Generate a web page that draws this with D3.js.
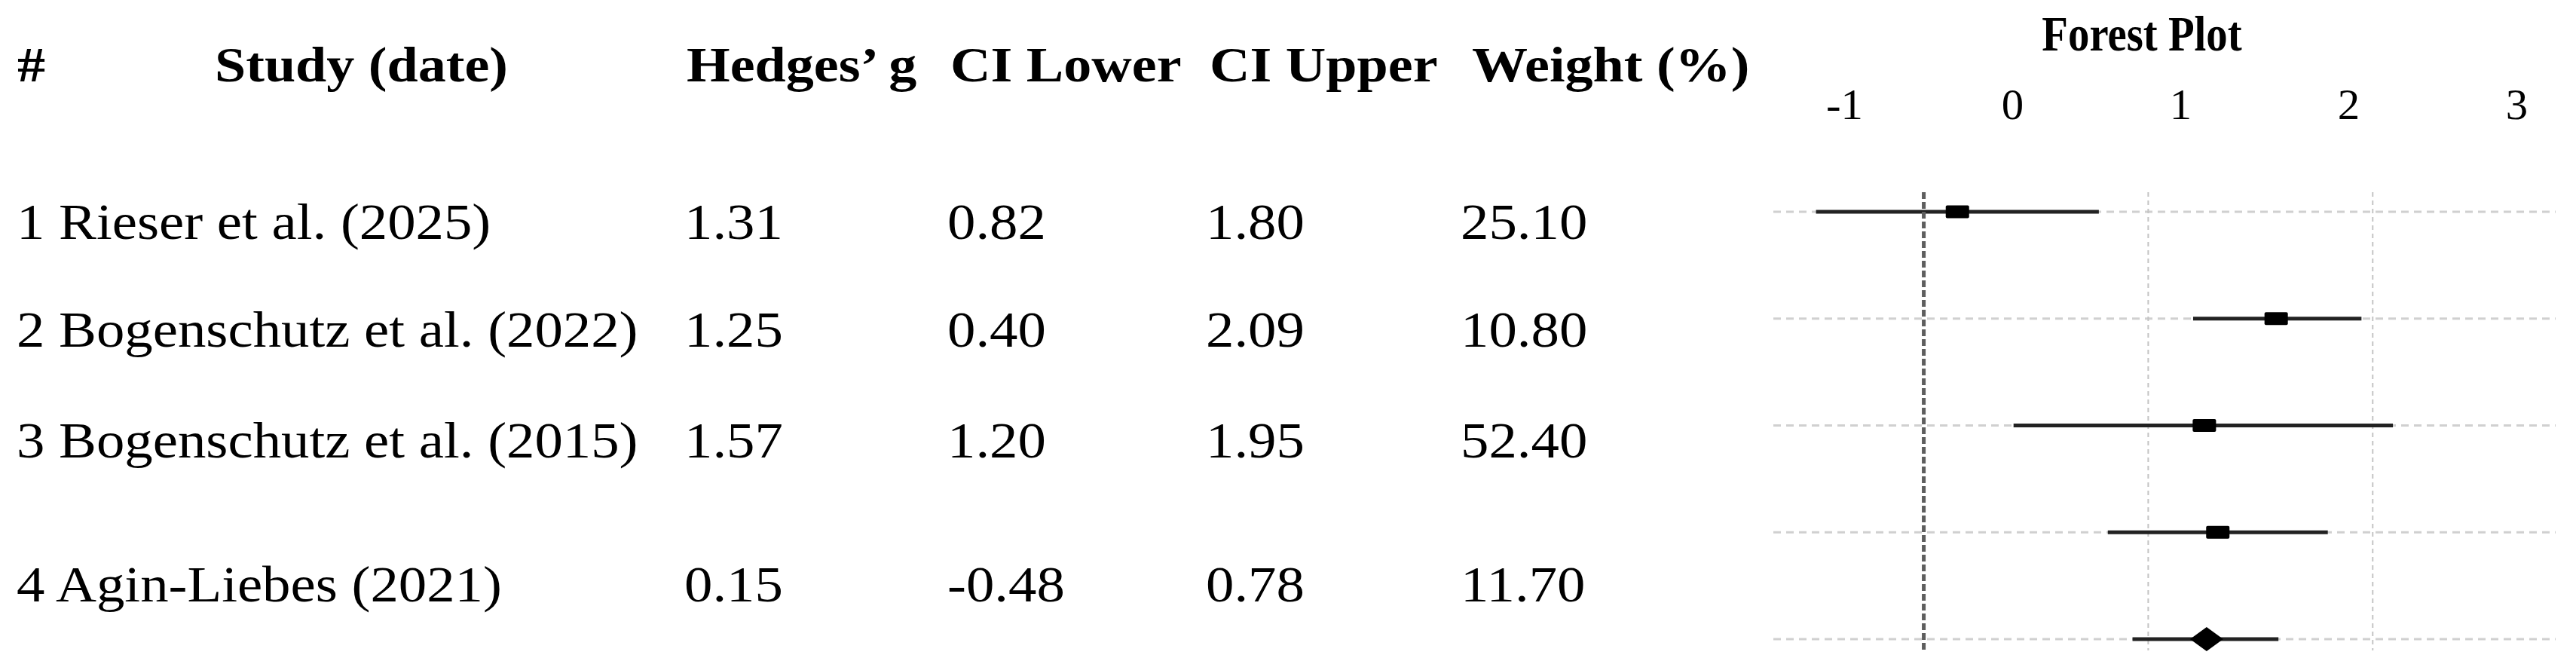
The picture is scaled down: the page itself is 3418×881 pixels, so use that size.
<!DOCTYPE html>
<html>
<head>
<meta charset="utf-8">
<script src="https://cdn.jsdelivr.net/npm/d3@7"></script>
<style>
  html, body { margin: 0; padding: 0; background: #fff; }
  svg { display: block; }
</style>
</head>
<body>
<div id="chart"></div>
<script>
// Datos de la tabla
const studyIds = [1, 2, 3, 4];
const studyNames = ["Rieser et al. (2025)", "Bogenschutz et al. (2022)", "Bogenschutz et al. (2015)", "Agin-Liebes (2021)"];
const hedgesG = [1.31, 1.25, 1.57, 0.15];
const ciLower = [0.82, 0.40, 1.20, -0.48];
const ciUpper = [1.80, 2.09, 1.95, 0.78];
const weights = [25.10, 10.80, 52.40, 11.70];

// Estimación combinada (rombo)
const pooledG = 1.26;
const pooledLower = 0.93;
const pooledUpper = 1.58;

const columnHeaders = ["#", "Study (date)", "Hedges’ g", "CI Lower", "CI Upper", "Weight (%)"];
const axisTicks = [-1, 0, 1, 2, 3];
const gridValues = [1, 2];

const W = 3418, H = 881;
const serif = "'Liberation Serif', 'Times New Roman', serif";

const svg = d3.select("#chart").append("svg")
    .attr("width", W)
    .attr("height", H);

svg.append("rect").attr("width", W).attr("height", H).attr("fill", "#fff");

// texto con escala horizontal (la imagen original está algo estirada)
function addText(g, x, y, str, opts) {
    return g.append("text")
        .attr("transform", `translate(${x},${y}) scale(${opts.sx || 1},1)`)
        .attr("text-anchor", opts.anchor || "start")
        .style("font-family", serif)
        .style("font-size", opts.size + "px")
        .style("font-weight", opts.bold ? "bold" : "normal")
        .attr("fill", "#000")
        .text(str);
}

// ---- Tabla ----
const table = svg.append("g");
const headerX = [23, 285, 911, 1261, 1605, 1953];
const headerY = 108;
columnHeaders.forEach((h, i) => addText(table, headerX[i], headerY, h, { size: 65, bold: true, sx: 1.14 }));

const rowBaselines = [317, 460, 607, 798];
const colX = { label: 22, g: 908, lo: 1257, hi: 1600, w: 1938 };
const bodyStyle = { size: 68, sx: 1.1 };

studyIds.forEach((id, i) => {
    const y = rowBaselines[i];
    addText(table, colX.label, y, `${id} ${studyNames[i]}`, bodyStyle);
    addText(table, colX.g, y, hedgesG[i].toFixed(2), bodyStyle);
    addText(table, colX.lo, y, ciLower[i].toFixed(2), bodyStyle);
    addText(table, colX.hi, y, ciUpper[i].toFixed(2), bodyStyle);
    addText(table, colX.w, y, weights[i].toFixed(2), bodyStyle);
});

// ---- Forest plot ----
const plot = svg.append("g");

// escala de los datos
const x = d3.scaleLinear().domain([-0.67, 2.815]).range([2353, 3391]);
// escala de las etiquetas del eje (no coincide con la de los datos en el original)
const xTicks = d3.scaleLinear().domain([-1, 3]).range([2447, 3339]);

// filas del gráfico: estudios en orden inverso y luego la estimación combinada
const plotRows = studyIds.map((id, i) => ({ g: hedgesG[i], lo: ciLower[i], hi: ciUpper[i], pooled: false })).reverse();
plotRows.push({ g: pooledG, lo: pooledLower, hi: pooledUpper, pooled: true });

const y = d3.scalePoint().domain(d3.range(plotRows.length)).range([281, 848]);
const yTop = 255, yBottom = 863;

// título
addText(plot, 2842, 67, "Forest Plot", { size: 66, bold: true, sx: 0.86, anchor: "middle" });

// eje superior
const axis = plot.append("g")
    .attr("transform", "translate(0,158)")
    .call(d3.axisTop(xTicks).tickValues(axisTicks).tickSize(0).tickPadding(0).tickFormat(d => String(d)));
axis.select(".domain").remove();
axis.selectAll("text")
    .attr("y", 0)
    .attr("dy", 0)
    .attr("transform", "scale(1.05,1)")
    .style("font-family", serif)
    .style("font-size", "56px")
    .attr("fill", "#000");

// líneas horizontales punteadas
plot.selectAll(".hgrid")
    .data(plotRows)
    .enter().append("line")
    .attr("class", "hgrid")
    .attr("x1", x.range()[0])
    .attr("x2", x.range()[1])
    .attr("y1", (d, i) => y(i))
    .attr("y2", (d, i) => y(i))
    .attr("stroke", "#d0d0d0")
    .attr("stroke-width", 3)
    .attr("stroke-dasharray", "10,7");

// líneas verticales de referencia
plot.selectAll(".vgrid")
    .data(gridValues)
    .enter().append("line")
    .attr("class", "vgrid")
    .attr("x1", d => x(d))
    .attr("x2", d => x(d))
    .attr("y1", yTop)
    .attr("y2", yBottom)
    .attr("stroke", "#c4c4c4")
    .attr("stroke-width", 2)
    .attr("stroke-dasharray", "6,5");

// intervalos de confianza
plot.selectAll(".ci")
    .data(plotRows)
    .enter().append("line")
    .attr("class", "ci")
    .attr("x1", d => x(d.lo))
    .attr("x2", d => x(d.hi))
    .attr("y1", (d, i) => y(i))
    .attr("y2", (d, i) => y(i))
    .attr("stroke", "#222")
    .attr("stroke-width", 5);

// línea de no efecto
plot.append("line")
    .attr("x1", x(0))
    .attr("x2", x(0))
    .attr("y1", yTop)
    .attr("y2", yBottom)
    .attr("stroke", "#5e5e5e")
    .attr("stroke-width", 5)
    .attr("stroke-dasharray", "9,4");

// cuadrados de cada estudio
const boxW = 31, boxH = 17;
plot.selectAll(".box")
    .data(plotRows.filter(d => !d.pooled))
    .enter().append("rect")
    .attr("class", "box")
    .attr("x", d => x(d.g) - boxW / 2)
    .attr("y", (d, i) => y(i) - boxH / 2)
    .attr("width", boxW)
    .attr("height", boxH)
    .attr("rx", 2)
    .attr("fill", "#000");

// rombo de la estimación combinada
const dw = 22, dh = 16;
plotRows.forEach((d, i) => {
    if (!d.pooled) return;
    const cx = x(d.g), cy = y(i);
    plot.append("path")
        .attr("d", `M${cx - dw},${cy}L${cx},${cy - dh}L${cx + dw},${cy}L${cx},${cy + dh}Z`)
        .attr("fill", "#000");
});
</script>
</body>
</html>
